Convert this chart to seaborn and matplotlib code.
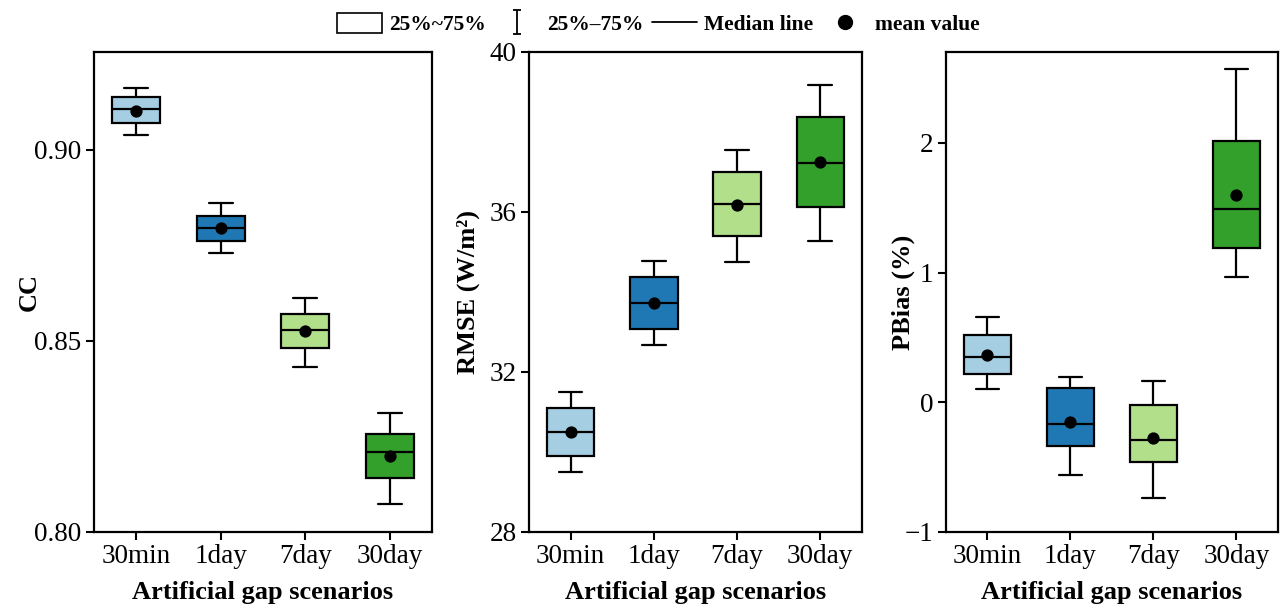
import numpy as np
import pandas as pd
import matplotlib
matplotlib.use("Agg")
import matplotlib.pyplot as plt
import seaborn as sns
from matplotlib.lines import Line2D
from matplotlib.patches import Rectangle
from matplotlib.path import Path

scenarios = ["30min", "1day", "7day", "30day"]
colors = ["#a6cee3", "#1f78b4", "#b2df8a", "#33a02c"]

# CC
cc_low = [0.9039, 0.8730, 0.8432, 0.8073]
cc_q1 = [0.9069, 0.8760, 0.8481, 0.8142]
cc_med = [0.9105, 0.8796, 0.8527, 0.8209]
cc_q3 = [0.9136, 0.8825, 0.8571, 0.8257]
cc_high = [0.9160, 0.8860, 0.8611, 0.8312]
cc_mean = [0.9101, 0.8795, 0.8525, 0.8198]

# RMSE (W/m2)
rmse_low = [29.50, 32.67, 34.76, 35.27]
rmse_q1 = [29.89, 33.07, 35.40, 36.13]
rmse_med = [30.50, 33.72, 36.21, 37.22]
rmse_q3 = [31.10, 34.37, 37.00, 38.38]
rmse_high = [31.49, 34.77, 37.54, 39.17]
rmse_mean = [30.51, 33.72, 36.18, 37.26]

# PBias (%)
pb_low = [0.103, -0.557, -0.738, 0.964]
pb_q1 = [0.217, -0.334, -0.460, 1.189]
pb_med = [0.345, -0.167, -0.292, 1.490]
pb_q3 = [0.518, 0.109, -0.022, 2.014]
pb_high = [0.655, 0.192, 0.167, 2.565]
pb_mean = [0.362, -0.150, -0.279, 1.596]


def to_long(low, q1, med, q3, high):
    # five points per scenario -> quartiles land exactly on q1/med/q3
    rows = []
    for i, s in enumerate(scenarios):
        for v in (low[i], q1[i], med[i], q3[i], high[i]):
            rows.append((s, v))
    return pd.DataFrame(rows, columns=["scenario", "value"])


sns.set_theme(style="ticks")
plt.rcParams["font.family"] = ["Liberation Serif", "DejaVu Serif"]
plt.rcParams["axes.linewidth"] = 1.5
plt.rcParams["text.color"] = "black"
plt.rcParams["axes.labelcolor"] = "black"

fig = plt.figure(figsize=(12.83, 6.05), dpi=100)
positions = [
    [0.0733, 0.1207, 0.2634, 0.7934],
    [0.4123, 0.1207, 0.2595, 0.7934],
    [0.7373, 0.1207, 0.2588, 0.7934],
]

panels = [
    (to_long(cc_low, cc_q1, cc_med, cc_q3, cc_high), cc_mean, "CC",
     (0.80, 0.9255), [0.80, 0.85, 0.90], "{:.2f}", -0.157),
    (to_long(rmse_low, rmse_q1, rmse_med, rmse_q3, rmse_high), rmse_mean,
     "RMSE (W/m²)", (28, 40), [28, 32, 36, 40], "{:.0f}", -0.147),
    (to_long(pb_low, pb_q1, pb_med, pb_q3, pb_high), pb_mean, "PBias (%)",
     (-1, 2.70), [-1, 0, 1, 2], "{:.0f}", -0.093),
]

for pos, (df, means, ylab, ylim, yticks, fmt, labx) in zip(positions, panels):
    ax = fig.add_axes(pos)
    sns.boxplot(data=df, x="scenario", y="value", hue="scenario",
                order=scenarios, hue_order=scenarios, palette=colors,
                saturation=1, whis=(0, 100), width=0.57, linewidth=1.6,
                linecolor="black", legend=False, ax=ax)
    sns.pointplot(x=scenarios, y=means, order=scenarios, color="black",
                  linestyles="none", markers="o", errorbar=None,
                  markersize=6.8, ax=ax)
    ax.set_xlim(-0.5, 3.5)
    ax.set_ylim(*ylim)
    ax.set_yticks(yticks)
    ax.set_yticklabels([fmt.format(t).replace("-", "\u2212") for t in yticks])
    ax.set_xlabel("Artificial gap scenarios", fontsize=19, fontweight="bold",
                  labelpad=8)
    ax.set_ylabel(ylab, fontsize=19, fontweight="bold")
    ax.yaxis.set_label_coords(labx, 0.5)
    ax.tick_params(direction="out", length=6, width=1.5, labelsize=19.5,
                   color="black", labelcolor="black", pad=3)
    for sp in ax.spines.values():
        sp.set_visible(True)
        sp.set_linewidth(1.6)
        sp.set_color("black")

# legend
ibeam = Path([(-0.35, 1), (0.35, 1), (0, 1), (0, -1), (-0.35, -1), (0.35, -1)],
             [Path.MOVETO, Path.LINETO, Path.MOVETO, Path.LINETO,
              Path.MOVETO, Path.LINETO])
handles = [
    Rectangle((0, 0), 1, 1, facecolor="white", edgecolor="black", lw=1.2),
    Line2D([], [], linestyle="none", marker=ibeam, markersize=17,
           markeredgecolor="black", markeredgewidth=1.3),
    Line2D([], [], color="black", lw=1.3),
    Line2D([], [], linestyle="none", marker="o", color="black", markersize=10),
]
labels = ["25%~75%", "25%\u201375%", "Median line", "mean value"]
fig.legend(handles, labels, loc="upper center", bbox_to_anchor=(0.513, 1.01),
           ncol=4, frameon=False, prop={"weight": "bold", "size": 15.5},
           handlelength=2.1, handleheight=1.0, columnspacing=0.4,
           handletextpad=0.33)

fig.savefig("out.png", dpi=100)
